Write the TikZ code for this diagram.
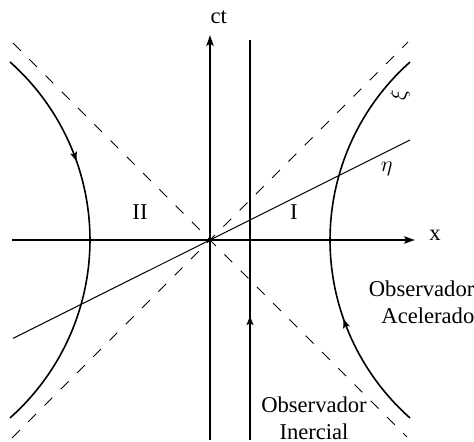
\documentclass[tikz,border=0pt]{standalone}
\usepackage{fontspec}
\setmainfont{Liberation Serif}
\usetikzlibrary{arrows.meta,decorations.markings}
\tikzset{
  axis/.style={line width=1pt,-{Stealth[length=5.5pt,width=3.6pt,inset=1.2pt]}},
  cone/.style={line width=0.5pt,dash pattern=on 5.5pt off 6pt},
  worldline/.style={line width=0.8pt},
  midarrow/.style={postaction={decorate},decoration={markings,
    mark=at position #1 with {\arrow{Stealth[length=4.5pt,width=3.4pt,inset=0.9pt]}}}},
}
\begin{document}
\begin{tikzpicture}[x=20pt,y=20pt,font=\fontsize{11.3}{13.5}\selectfont]
\useasboundingbox (-5.25,-5.05) rectangle (6.6,6);
% axes
\coordinate (O) at (0,0);
\coordinate (xl) at (-4.95,0);
\coordinate (xr) at (5.125,0);
\coordinate (tb) at (0,-5);
\coordinate (tt) at (0,5.125);
\draw[axis] (xl) -- (xr);
\draw[axis] (tb) -- (tt);
\node (xlab) at (5.625,0.125) {x};
\node (ctlab) at (0.22,5.58) {ct};
% light cone
\coordinate (c1) at (-4.925,4.925);
\coordinate (c2) at (4.925,-4.925);
\coordinate (c3) at (-4.95,-4.95);
\coordinate (c4) at (4.95,4.95);
\draw[cone] (c1) -- (c2);
\draw[cone] (c3) -- (c4);
% eta line
\coordinate (e1) at (-4.925,-2.46);
\coordinate (e2) at (5,2.5);
\draw[line width=0.5pt] (e1) -- (e2);
\node (eta) at (4.42,1.78) {$\eta$};
% inertial observer
\coordinate (i1) at (1,-5);
\coordinate (i2) at (1,5);
\draw[line width=1pt,midarrow=0.31] (i1) -- (i2);
% accelerated observers
\coordinate (hr) at (5,-4.45);
\coordinate (hl) at (-5,4.45);
\draw[worldline,midarrow=0.3] (hr) arc[start angle=228.4,end angle=131.6,radius=5.95];
\draw[worldline,midarrow=0.3] (hl) arc[start angle=48.4,end angle=-48.4,radius=5.95];
\node[rotate=90] (xi) at (4.75,3.62) {$\xi$};
% regions
\node (nI) at (2.1,0.7) {I};
\node (nII) at (-1.75,0.7) {II};
% labels
\node[align=right] (acel) at (5.29,-1.55) {Observador\\Acelerado};
\node[align=center,inner ysep=1pt] (inerc) at (2.6,-4.45) {Observador\\Inercial};
\end{tikzpicture}
\end{document}
